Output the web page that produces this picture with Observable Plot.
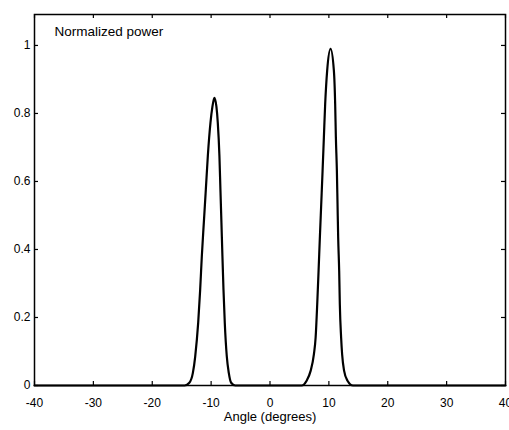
<!DOCTYPE html>
<html>
<head>
<meta charset="utf-8">
<script src="https://cdn.jsdelivr.net/npm/d3@7"></script>
<script src="https://cdn.jsdelivr.net/npm/@observablehq/plot@0.6"></script>
<style>
  html, body { margin: 0; padding: 0; background: #fff; }
  #chart { width: 509px; height: 430px; }
</style>
</head>
<body>
<div id="chart"></div>
<script>
// Angle (degrees) and normalized power
const angle = [-40, -14.5, -13.7, -13.1, -12.7, -12.2, -11.86, -11.58, -11.24, -10.9, -10.56, -10.11, -9.78, -9.45,
               -9.1, -8.87, -8.59, -8.42, -8.25, -8.08, -7.9, -7.68, -7.34, -7.0, -6.6, -5.9,
               5.37, 6.22, 6.9, 7.46, 7.75, 8.02, 8.25, 8.47, 8.7, 8.93, 9.15, 9.37, 9.71, 10.29,
               10.85, 11.07, 11.19, 11.36, 11.47, 11.58, 11.75, 11.86, 12.08, 12.25, 12.59, 13.16, 14.1, 40];
const power = [0, 0, 0.008, 0.037, 0.086, 0.184, 0.282, 0.38, 0.479, 0.576, 0.675, 0.773, 0.82, 0.846,
               0.82, 0.773, 0.675, 0.576, 0.479, 0.38, 0.282, 0.184, 0.086, 0.037, 0.008, 0,
               0, 0.014, 0.043, 0.092, 0.141, 0.239, 0.337, 0.435, 0.533, 0.631, 0.729, 0.827, 0.926, 0.99,
               0.926, 0.827, 0.729, 0.631, 0.533, 0.435, 0.337, 0.239, 0.141, 0.092, 0.043, 0.014, 0, 0];
const xTicks = [-40, -30, -20, -10, 0, 10, 20, 30, 40];
const yTicks = [0, 0.2, 0.4, 0.6, 0.8, 1];
const xTitle = "Angle (degrees)";
const yTitle = "Normalized power";

const data = angle.map((a, i) => ({angle: a, power: power[i]}));

const W = 509, H = 430;
const mL = 34, mR = 4, mT = 14, mB = 45;
const fw = W - mL - mR, fh = H - mT - mB, tk = 4;
const font = "'Liberation Sans', Arial, Helvetica, sans-serif";

const chart = Plot.plot({
  width: W,
  height: H,
  marginLeft: mL,
  marginRight: mR,
  marginTop: mT,
  marginBottom: mB,
  style: {fontFamily: font, fontSize: "12px", color: "#000", background: "#fff"},
  x: {domain: [-40, 40]},
  y: {domain: [0, 1.091]},
  marks: [
    Plot.frame({stroke: "#000", strokeWidth: 1.5}),
    // inward ticks on all four sides
    Plot.tickX(xTicks, {x: d => d, insetTop: fh - tk, stroke: "#000", strokeWidth: 1.2}),
    Plot.tickX(xTicks, {x: d => d, insetBottom: fh - tk, stroke: "#000", strokeWidth: 1.2}),
    Plot.tickY(yTicks, {y: d => d, insetRight: fw - tk, stroke: "#000", strokeWidth: 1.2}),
    Plot.tickY(yTicks, {y: d => d, insetLeft: fw - tk, stroke: "#000", strokeWidth: 1.2}),
    // tick labels
    Plot.axisX(xTicks, {anchor: "bottom", tickSize: 0, tickPadding: 13, label: null, tickFormat: d => String(d), fontSize: 12}),
    Plot.axisY(yTicks, {anchor: "left", tickSize: 0, tickPadding: 4, label: null, tickFormat: d => String(d), fontSize: 12}),
    Plot.line(data, {x: "angle", y: "power", stroke: "#000", strokeWidth: 2.2, curve: "monotone-x"}),
    Plot.text([yTitle], {frameAnchor: "top-left", dx: 20, dy: 12, textAnchor: "start", lineAnchor: "top", fontSize: 13.5, fill: "#000"}),
    Plot.text([xTitle], {frameAnchor: "bottom", dy: 35, fontSize: 13, fill: "#000"})
  ]
});
document.getElementById("chart").appendChild(chart);
</script>
</body>
</html>
